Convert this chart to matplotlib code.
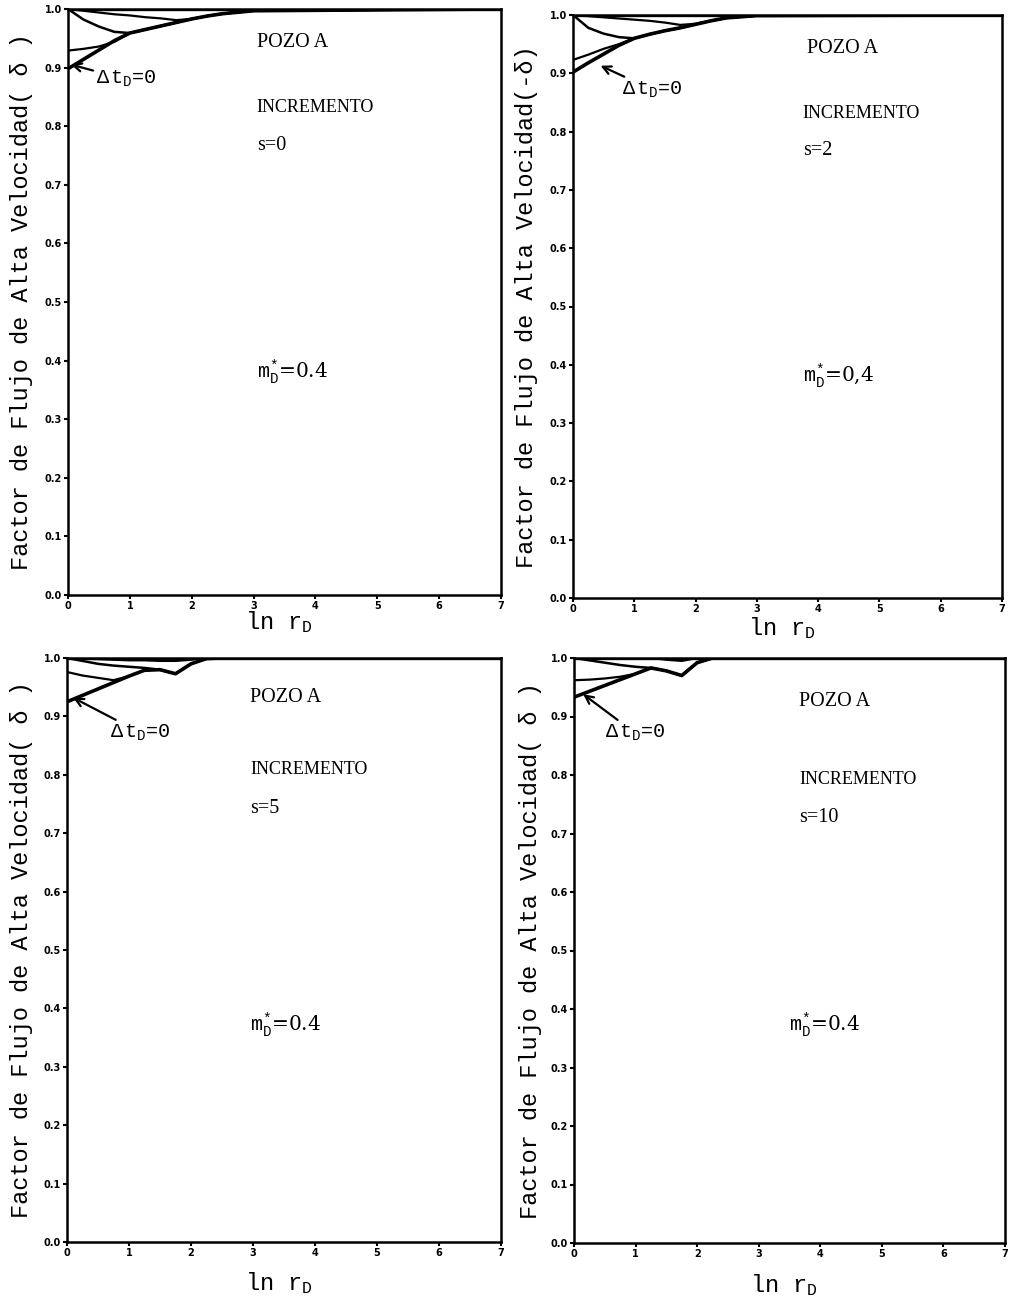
import matplotlib
matplotlib.use("Agg")
import matplotlib.pyplot as plt

plt.rcParams['font.family'] = ['DejaVu Serif']
plt.rcParams['mathtext.fontset'] = 'custom'
plt.rcParams['mathtext.rm'] = 'Liberation Mono'
plt.rcParams['mathtext.it'] = 'Liberation Mono'
plt.rcParams['mathtext.bf'] = 'Liberation Mono:bold'

# ---------------- data ----------------
x_s0 = [0, 0.25, 0.5, 0.75, 1.0, 1.25, 1.5, 1.75, 2.0, 2.25, 2.5, 3.0, 7.0]
s0_c1 = [0.898, 0.914, 0.930, 0.946, 0.959, 0.965, 0.971, 0.977, 0.983, 0.988, 0.992, 0.997, 1.0]
s0_c2 = [0.929, 0.932, 0.936, 0.944, 0.959, 0.965, 0.971, 0.977, 0.983, 0.988, 0.992, 0.997, 1.0]
s0_c3 = [1.0, 0.982, 0.970, 0.961, 0.959, 0.965, 0.971, 0.977, 0.983, 0.988, 0.992, 0.997, 1.0]
s0_c4 = [1.0, 0.997, 0.994, 0.991, 0.989, 0.986, 0.984, 0.981, 0.983, 0.988, 0.992, 0.997, 1.0]
s0_c5 = [1.0, 1.0, 1.0, 1.0, 1.0, 1.0, 1.0, 1.0, 1.0, 1.0, 1.0, 1.0, 1.0]

x_s2 = [0, 0.25, 0.5, 0.75, 1.0, 1.25, 1.5, 1.75, 2.0, 2.25, 2.5, 3.0, 7.0]
s2_c1 = [0.902, 0.918, 0.933, 0.948, 0.960, 0.967, 0.973, 0.978, 0.984, 0.990, 0.995, 0.999, 1.0]
s2_c2 = [0.923, 0.932, 0.942, 0.950, 0.960, 0.967, 0.973, 0.978, 0.984, 0.990, 0.995, 0.999, 1.0]
s2_c3 = [1.0, 0.978, 0.968, 0.962, 0.960, 0.967, 0.973, 0.978, 0.984, 0.990, 0.995, 0.999, 1.0]
s2_c4 = [1.0, 0.998, 0.996, 0.994, 0.992, 0.990, 0.987, 0.983, 0.985, 0.990, 0.995, 0.999, 1.0]
s2_c5 = [1.0, 1.0, 1.0, 1.0, 1.0, 1.0, 1.0, 1.0, 1.0, 1.0, 1.0, 1.0, 1.0]

x_s5 = [0, 0.25, 0.5, 0.75, 1.0, 1.25, 1.5, 1.75, 2.0, 2.25, 2.5, 7.0]
s5_c1 = [0.925, 0.936, 0.947, 0.958, 0.969, 0.979, 0.980, 0.973, 0.990, 0.999, 1.0, 1.0]
s5_c2 = [0.976, 0.970, 0.966, 0.962, 0.969, 0.979, 0.980, 0.973, 0.990, 0.999, 1.0, 1.0]
s5_c3 = [1.0, 0.995, 0.990, 0.987, 0.985, 0.983, 0.980, 0.973, 0.990, 0.999, 1.0, 1.0]
s5_c4 = [1.0, 0.999, 0.998, 0.997, 0.996, 0.996, 0.995, 0.995, 0.997, 1.0, 1.0, 1.0]
s5_c5 = [1.0, 1.0, 1.0, 1.0, 1.0, 1.0, 1.0, 1.0, 1.0, 1.0, 1.0, 1.0]

x_s10 = [0, 0.25, 0.5, 0.75, 1.0, 1.25, 1.5, 1.75, 2.0, 2.25, 2.5, 7.0]
s10_c1 = [0.933, 0.943, 0.953, 0.963, 0.973, 0.983, 0.978, 0.970, 0.992, 1.0, 1.0, 1.0]
s10_c2 = [0.962, 0.963, 0.965, 0.968, 0.973, 0.983, 0.978, 0.970, 0.992, 1.0, 1.0, 1.0]
s10_c3 = [1.0, 0.996, 0.992, 0.988, 0.985, 0.983, 0.978, 0.970, 0.992, 1.0, 1.0, 1.0]
s10_c4 = [1.0, 1.0, 1.0, 1.0, 1.0, 1.0, 0.997, 0.995, 1.0, 1.0, 1.0, 1.0]
s10_c5 = [1.0, 1.0, 1.0, 1.0, 1.0, 1.0, 1.0, 1.0, 1.0, 1.0, 1.0, 1.0]

y_ticks = [0.0, 0.1, 0.2, 0.3, 0.4, 0.5, 0.6, 0.7, 0.8, 0.9, 1.0]
y_tick_labels = ["0.0", "0.1", "0.2", "0.3", "0.4", "0.5", "0.6", "0.7", "0.8", "0.9", "1.0"]
x_ticks = [0, 1, 2, 3, 4, 5, 6, 7]
x_tick_labels = ["0", "1", "2", "3", "4", "5", "6", "7"]

s_labels = ["s=0", "s=2", "s=5", "s=10"]
m_labels = [r"$\mathrm{m}_{\mathrm{D}}^{*}$=0.4", r"$\mathrm{m}_{\mathrm{D}}^{*}$=0,4",
            r"$\mathrm{m}_{\mathrm{D}}^{*}$=0.4", r"$\mathrm{m}_{\mathrm{D}}^{*}$=0.4"]
y_labels = ["Factor de Flujo de Alta Velocidad( δ )",
            "Factor de Flujo de Alta Velocidad(-δ)",
            "Factor de Flujo de Alta Velocidad( δ )",
            "Factor de Flujo de Alta Velocidad( δ )"]

panels = [
    (x_s0, [s0_c1, s0_c2, s0_c3, s0_c4, s0_c5]),
    (x_s2, [s2_c1, s2_c2, s2_c3, s2_c4, s2_c5]),
    (x_s5, [s5_c1, s5_c2, s5_c3, s5_c4, s5_c5]),
    (x_s10, [s10_c1, s10_c2, s10_c3, s10_c4, s10_c5]),
]

# ---------------- layout ----------------
W, H = 1020, 1307
fig = plt.figure(figsize=(W / 100, H / 100), dpi=100)

# pixel boxes: left, top, right, bottom
boxes = [(68, 9, 501, 595), (573, 15, 1002, 598), (67, 658, 501, 1242), (574, 658, 1005, 1243)]
# text anchors (data coords)
pozo_pos = [(3.05, 0.935), (3.82, 0.935), (2.95, 0.924), (3.66, 0.918)]
inc_pos = [(3.05, 0.824), (3.75, 0.824), (2.95, 0.802), (3.66, 0.785)]
s_pos = [(3.05, 0.760), (3.75, 0.760), (2.95, 0.735), (3.66, 0.720)]
m_pos = [(3.05, 0.370), (3.75, 0.370), (2.95, 0.362), (3.50, 0.362)]
ann_text = [(0.45, 0.880), (0.80, 0.872), (0.70, 0.872), (0.50, 0.872)]
ann_head = [(0.05, 0.905), (0.45, 0.913), (0.10, 0.932), (0.15, 0.938)]
ylab_x = [22, 527, 22, 530]
xlab_y = [622, 628, 1283, 1285]

lws = [2.6, 1.6, 1.8, 1.6, 2.4]

for i, (xs, curves) in enumerate(panels):
    l, t, r, b = boxes[i]
    ax = fig.add_axes([l / W, 1 - b / H, (r - l) / W, (b - t) / H])
    for c, lw in zip(curves, lws):
        ax.plot(xs, c, color='black', lw=lw, solid_capstyle='round', solid_joinstyle='round')
    ax.set_xlim(0, 7)
    ax.set_ylim(0, 1.0)
    ax.set_xticks(x_ticks)
    ax.set_xticklabels(x_tick_labels, fontsize=7, fontweight='bold', family='DejaVu Sans')
    ax.set_yticks(y_ticks)
    ax.set_yticklabels(y_tick_labels, fontsize=7, fontweight='bold', family='DejaVu Sans')
    ax.tick_params(direction='out', length=3, width=1.5, pad=1.5)
    for sp in ax.spines.values():
        sp.set_linewidth(1.8)
    ax.text(pozo_pos[i][0], pozo_pos[i][1], "POZO A", fontsize=14.5, family='Liberation Serif')
    ax.text(inc_pos[i][0], inc_pos[i][1], "INCREMENTO", fontsize=13, family='Liberation Serif')
    ax.text(s_pos[i][0], s_pos[i][1], s_labels[i], fontsize=14.5, family='Liberation Serif')
    ax.text(m_pos[i][0], m_pos[i][1], m_labels[i], fontsize=14.5)
    ax.annotate(r"$\Delta\,\mathrm{t}_{\mathrm{D}}$=0", xy=ann_head[i], xytext=ann_text[i],
                fontsize=14.5, va='center', family='Liberation Mono',
                arrowprops=dict(arrowstyle='->', color='black', lw=1.6,
                                shrinkA=0, shrinkB=0))
    fig.text(ylab_x[i] / W, 1 - (t + b) / 2 / H, y_labels[i], rotation=90,
             ha='center', va='center', fontsize=17, family='Liberation Mono')
    cx = (l + r) / 2 / W
    fig.text(cx - 0.005, 1 - xlab_y[i] / H, r"ln r$_{\mathrm{D}}$", ha='center', va='center',
             fontsize=17, family='Liberation Mono')

fig.savefig("out.png", dpi=100, facecolor='white')
